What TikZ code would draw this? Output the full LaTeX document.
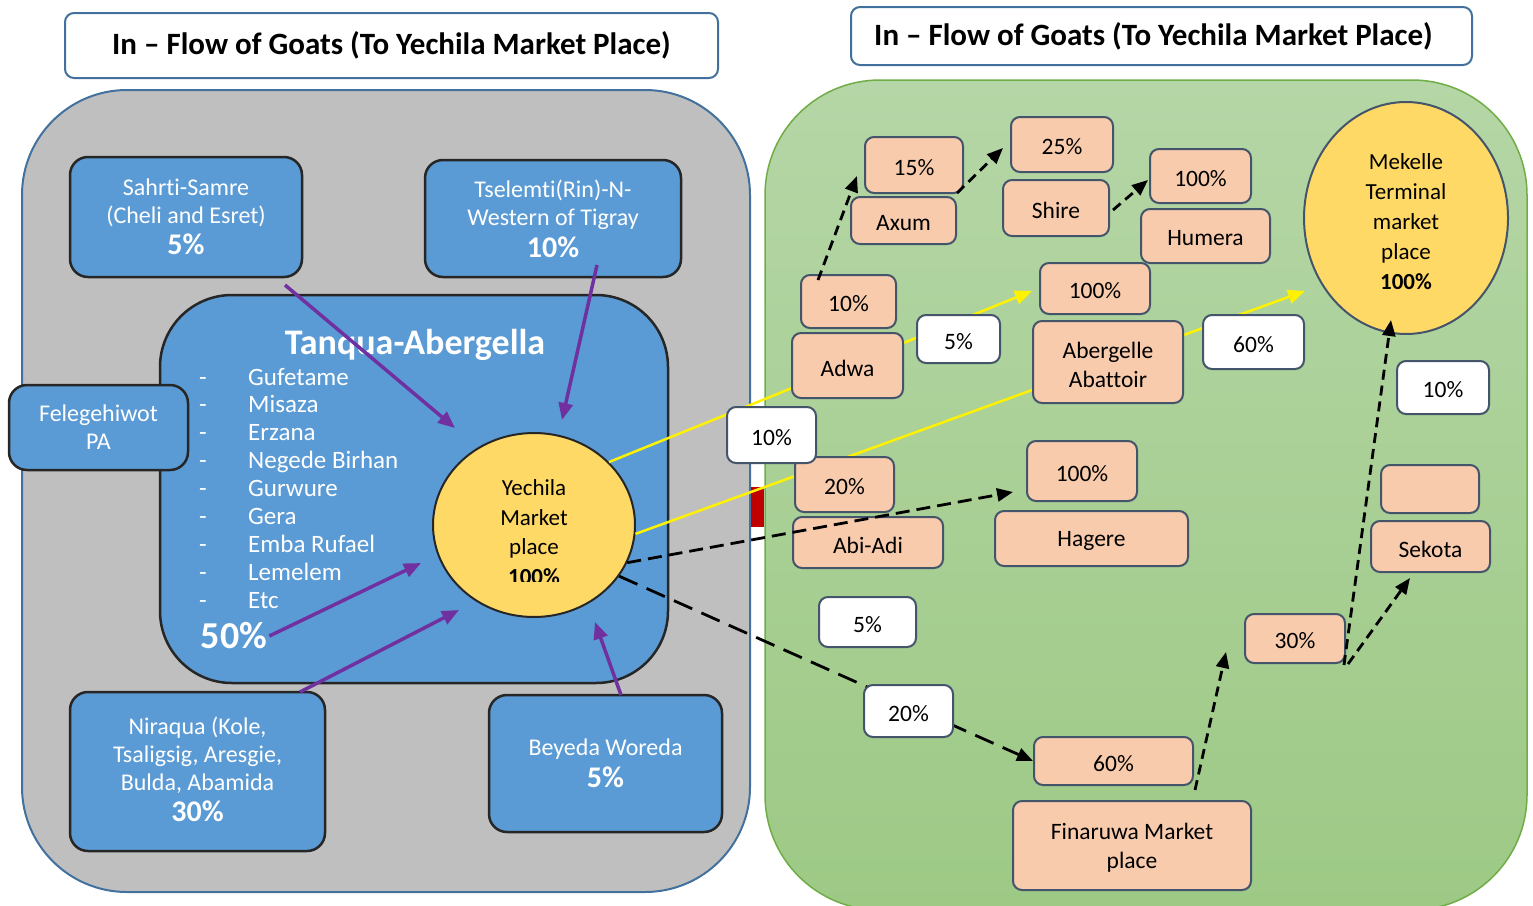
\documentclass[tikz,border=0pt]{standalone}
\usepackage{fontspec}
\setmainfont{Carlito}[Ligatures={TeX,NoCommon}]
\usetikzlibrary{arrows.meta,shapes.geometric,calc}

\definecolor{panelgray}{HTML}{BFBFBF}
\definecolor{panelline}{HTML}{41719C}
\definecolor{greentop}{HTML}{B5D6A6}
\definecolor{greenbottom}{HTML}{9DC985}
\definecolor{greenline}{HTML}{70AD47}
\definecolor{bluebox}{HTML}{5B9BD5}
\definecolor{darkline}{HTML}{262626}
\definecolor{peach}{HTML}{F8CBAD}
\definecolor{slate}{HTML}{44546A}
\definecolor{gold}{HTML}{FFD966}
\definecolor{violet}{HTML}{7030A0}
\definecolor{flowred}{HTML}{C00000}

\newcommand\pctfont{\fontsize{30}{32}\selectfont\bfseries}

\begin{document}
\begin{tikzpicture}[x=1pt,y=-1pt,
  titlebox/.style={draw=panelline, line width=2pt, fill=white, rounded corners=9pt,
    font=\fontsize{31}{34}\selectfont\bfseries, inner sep=0pt},
  srcbox/.style={draw=darkline, line width=2.5pt, fill=bluebox, rounded corners=18pt,
    text=white, align=center, font=\fontsize{24}{28}\selectfont, inner sep=0pt},
  srctext/.style={text=white, align=center, font=\fontsize{24}{28}\selectfont, inner sep=0pt},
  listtext/.style={text=white, font=\fontsize{25}{28}\selectfont, inner sep=0pt},
  boxtext/.style={align=center, font=\fontsize{23.5}{29}\selectfont, inner sep=0pt, yshift=-2.5pt},
  pbox/.style={draw=slate, line width=2pt, fill=peach, rounded corners=9pt, inner sep=0pt},
  wbox/.style={pbox, fill=white},
  market/.style={ellipse, line width=2pt, fill=gold, inner sep=0pt},
  inflow/.style={draw=violet, line width=3.5pt, -{Triangle[length=17pt,width=14pt]}},
  yflow/.style={draw=yellow, line width=2.5pt, -{Triangle[length=17pt,width=14pt]}},
  hop/.style={draw=black, line width=2.8pt, dash pattern=on 10pt off 6pt,
    -{Triangle[length=16pt,width=13pt]}},
  hopmid/.style={hop, dash pattern=on 14pt off 7pt},
  hoplong/.style={hop, dash pattern=on 20pt off 10pt}
]
\useasboundingbox (0,0) rectangle (1533,905);

% ---------- panels ----------
\draw[panelline, line width=2pt, fill=panelgray, rounded corners=105pt] (22,90) rectangle (750,892);
\begin{scope}
  \clip (0,0) rectangle (1533,905);
  \draw[greenline, line width=1.5pt, top color=greentop, bottom color=greenbottom,
        rounded corners=115pt] (765,80) rectangle (1527,910);
\end{scope}
\fill[flowred] (751,487) rectangle (764,527);

% ---------- headings ----------
\node[titlebox, minimum width=653pt, minimum height=65pt] (titleL) at (391.5,45.5)
  {In -- Flow of Goats (To Yechila Market Place)};
\node[titlebox, minimum width=621pt, minimum height=58pt] (titleR) at (1161.5,36)
  {In -- Flow of Goats (To Yechila Market Place)\hspace*{16pt}};

% ---------- source areas ----------
\node[srcbox, minimum width=232pt, minimum height=120pt] (sahrti) at (186,217)
  {Sahrti-Samre\\(Cheli and Esret)\\[3pt]{\pctfont 5\%}};
\node[srcbox, minimum width=256pt, minimum height=117pt] (tselemti) at (553,218.5)
  {Tselemti(Rin)-N-\\Western of Tigray\\[4pt]{\pctfont 10\%}};

\node[srcbox, rounded corners=72pt, minimum width=508pt, minimum height=388pt] (tanqua) at (414,489) {};
\node[text=white, font=\fontsize{36}{38}\selectfont\bfseries, inner sep=0pt] (tanquatitle) at (415,345) {Tanqua-Abergella};
\foreach \nm [count=\i from 0] in {Gufetame, Misaza, Erzana, Negede Birhan, Gurwure, Gera, Emba Rufael, Lemelem, Etc} {
  \node[listtext, anchor=base] (dash\i) at (203,{385+\i*27.9}) {-};
  \node[listtext, anchor=base west] (site\i) at (248,{385+\i*27.9}) {\nm};
}
\node[text=white, font=\fontsize{38}{38}\selectfont\bfseries, inner sep=0pt] (fifty) at (234,636) {50\%};

\node[srcbox, minimum width=179pt, minimum height=85pt] (felege) at (98.5,427.5) {Felegehiwot\\PA};
\node[srcbox, minimum width=255pt, minimum height=159pt,
      label={[srctext, yshift=2.5pt]center:Niraqua (Kole,\\Tsaligsig, Aresgie,\\Bulda, Abamida\\[3pt]{\pctfont 30\%}}]
      (niraqua) at (197.5,771.5) {};
\node[srcbox, minimum width=233pt, minimum height=137pt] (beyeda) at (605.5,763.5)
  {Beyeda Woreda\\[4pt]{\pctfont 5\%}};

% ---------- Yechila market ----------
\node[market, draw=darkline, minimum width=202pt, minimum height=184pt] (yech) at (534,525) {};
\begin{scope}
  \clip (430,430) rectangle (640,581);
  \node[align=center, font=\fontsize{23}{29.5}\selectfont, inner sep=0pt] (yechtext) at (534,532)
    {Yechila\\Market\\place\\\textbf{100\%}};
\end{scope}

% ---------- outflows drawn beneath the destination boxes ----------
\coordinate (ytipA) at (1032,291);
\coordinate (ytipB) at (1305,291);
\draw[yflow] (yech.40) -- (ytipA);
\draw[yflow] (yech.-5) -- (ytipB);

% ---------- destination boxes ----------
\node[pbox, minimum width=98pt, minimum height=56pt, label={[boxtext]center:15\%}] (axumpct) at (914,165) {};
\node[pbox, minimum width=105pt, minimum height=47pt, label={[boxtext]center:Axum}] (axum) at (903.5,220.5) {};
\node[pbox, minimum width=102pt, minimum height=55pt, label={[boxtext]center:25\%}] (shirepct) at (1062,144.5) {};
\node[pbox, minimum width=106pt, minimum height=56pt, label={[boxtext]center:Shire}] (shire) at (1056,208) {};
\node[pbox, minimum width=101pt, minimum height=54pt, label={[boxtext]center:100\%}] (humerapct) at (1200.5,176) {};
\node[pbox, minimum width=129pt, minimum height=54pt, label={[boxtext]center:Humera}] (humera) at (1205.5,236) {};
\node[pbox, minimum width=95pt, minimum height=53pt, label={[boxtext]center:10\%}] (adwapct) at (848.5,301.5) {};
\node[pbox, minimum width=111pt, minimum height=65pt, label={[boxtext]center:Adwa}] (adwa) at (847.5,365.5) {};
\node[pbox, minimum width=110pt, minimum height=51pt, label={[boxtext]center:100\%}] (abattpct) at (1095,288.5) {};
\node[pbox, minimum width=150pt, minimum height=82pt, label={[boxtext]center:Abergelle\\Abattoir}] (abatt) at (1108,362) {};
\node[pbox, minimum width=99pt, minimum height=55pt, label={[boxtext]center:20\%}] (abiadipct) at (844.5,484.5) {};
\node[pbox, minimum width=150pt, minimum height=51pt, label={[boxtext]center:Abi-Adi}] (abiadi) at (868,542.5) {};
\node[pbox, minimum width=110pt, minimum height=60pt, label={[boxtext]center:100\%}] (hagerepct) at (1082,471) {};
\node[pbox, minimum width=193pt, minimum height=55pt, label={[boxtext]center:Hagere}] (hagere) at (1091.5,538.5) {};
\node[pbox, minimum width=100pt, minimum height=49pt, label={[boxtext]center:30\%}] (mekpct) at (1295,638.5) {};
\node[pbox, minimum width=159pt, minimum height=48pt, label={[boxtext]center:60\%}] (finpct) at (1113.5,761) {};
\node[pbox, minimum width=238pt, minimum height=89pt, label={[boxtext]center:Finaruwa Market\\place}] (finaruwa) at (1132,845.5) {};
\node[pbox, minimum width=98pt, minimum height=48pt] (sekotapct) at (1430,489) {};
\node[pbox, minimum width=119pt, minimum height=51pt, label={[boxtext]center:Sekota}] (sekota) at (1430.5,546.5) {};

\node[wbox, minimum width=89pt, minimum height=56pt, label={[boxtext]center:10\%}] (shareA) at (771.5,435) {};
\node[wbox, minimum width=83pt, minimum height=48pt, label={[boxtext]center:5\%}] (shareB) at (958.5,339) {};
\node[wbox, minimum width=101pt, minimum height=54pt, label={[boxtext]center:60\%}] (shareC) at (1253.5,342) {};
\node[wbox, minimum width=92pt, minimum height=53pt, label={[boxtext]center:10\%}] (shareD) at (1443,387.5) {};
\node[wbox, minimum width=97pt, minimum height=50pt, label={[boxtext]center:5\%}] (shareE) at (867.5,622) {};

% long route to Finaruwa runs under the 20% label
\draw[hoplong] (yech.-31) -- (finpct.west);
\node[wbox, minimum width=89pt, minimum height=52pt, label={[boxtext]center:20\%}] (shareF) at (908.5,711) {};

% ---------- Mekelle terminal market ----------
\node[market, draw=slate, minimum width=204pt, minimum height=232pt] (mekelle) at (1406,218) {};
\node[align=center, font=\fontsize{23}{30}\selectfont, inner sep=0pt] (mektext) at (1406,221.5)
  {Mekelle\\Terminal\\market\\place\\\textbf{100\%}};

% ---------- onward flows ----------
\coordinate (hA0) at (818,280);   \coordinate (hA1) at (857,176);
\coordinate (hB0) at (957,193);   \coordinate (hB1) at (1003,148);
\coordinate (hC0) at (1113,210);  \coordinate (hC1) at (1148,180);
\coordinate (hD1) at (1013,492);
\coordinate (hF0) at (1195,790);  \coordinate (hF1) at (1226,652);
\coordinate (hG0) at (1344,665);  \coordinate (hG1) at (1391,320);
\coordinate (hH0) at (1348,664);  \coordinate (hH1) at (1410,578);
\draw[hop] (hA0) -- (hA1);
\draw[hop] (hB0) -- (hB1);
\draw[hop] (hC0) -- (hC1);
\draw[hopmid] (yech.-22) -- (hD1);
\draw[hop] (hF0) -- (hF1);
\draw[hop] (hG0) -- (hG1);
\draw[hop] (hH0) -- (hH1);

% ---------- inflows to Yechila ----------
\coordinate (iA0) at (285,285);  \coordinate (iA1) at (455,428);
\coordinate (iB0) at (597,265);  \coordinate (iB1) at (562,420);
\coordinate (iC1) at (421,563);
\coordinate (iD0) at (300,692);  \coordinate (iD1) at (459,610);
\coordinate (iE0) at (621,695);  \coordinate (iE1) at (595,622);
\draw[inflow] (iA0) -- (iA1);
\draw[inflow] (iB0) -- (iB1);
\draw[inflow] ([xshift=2pt]fifty.east) -- (iC1);
\draw[inflow] (iD0) -- (iD1);
\draw[inflow] (iE0) -- (iE1);
\end{tikzpicture}
\end{document}
